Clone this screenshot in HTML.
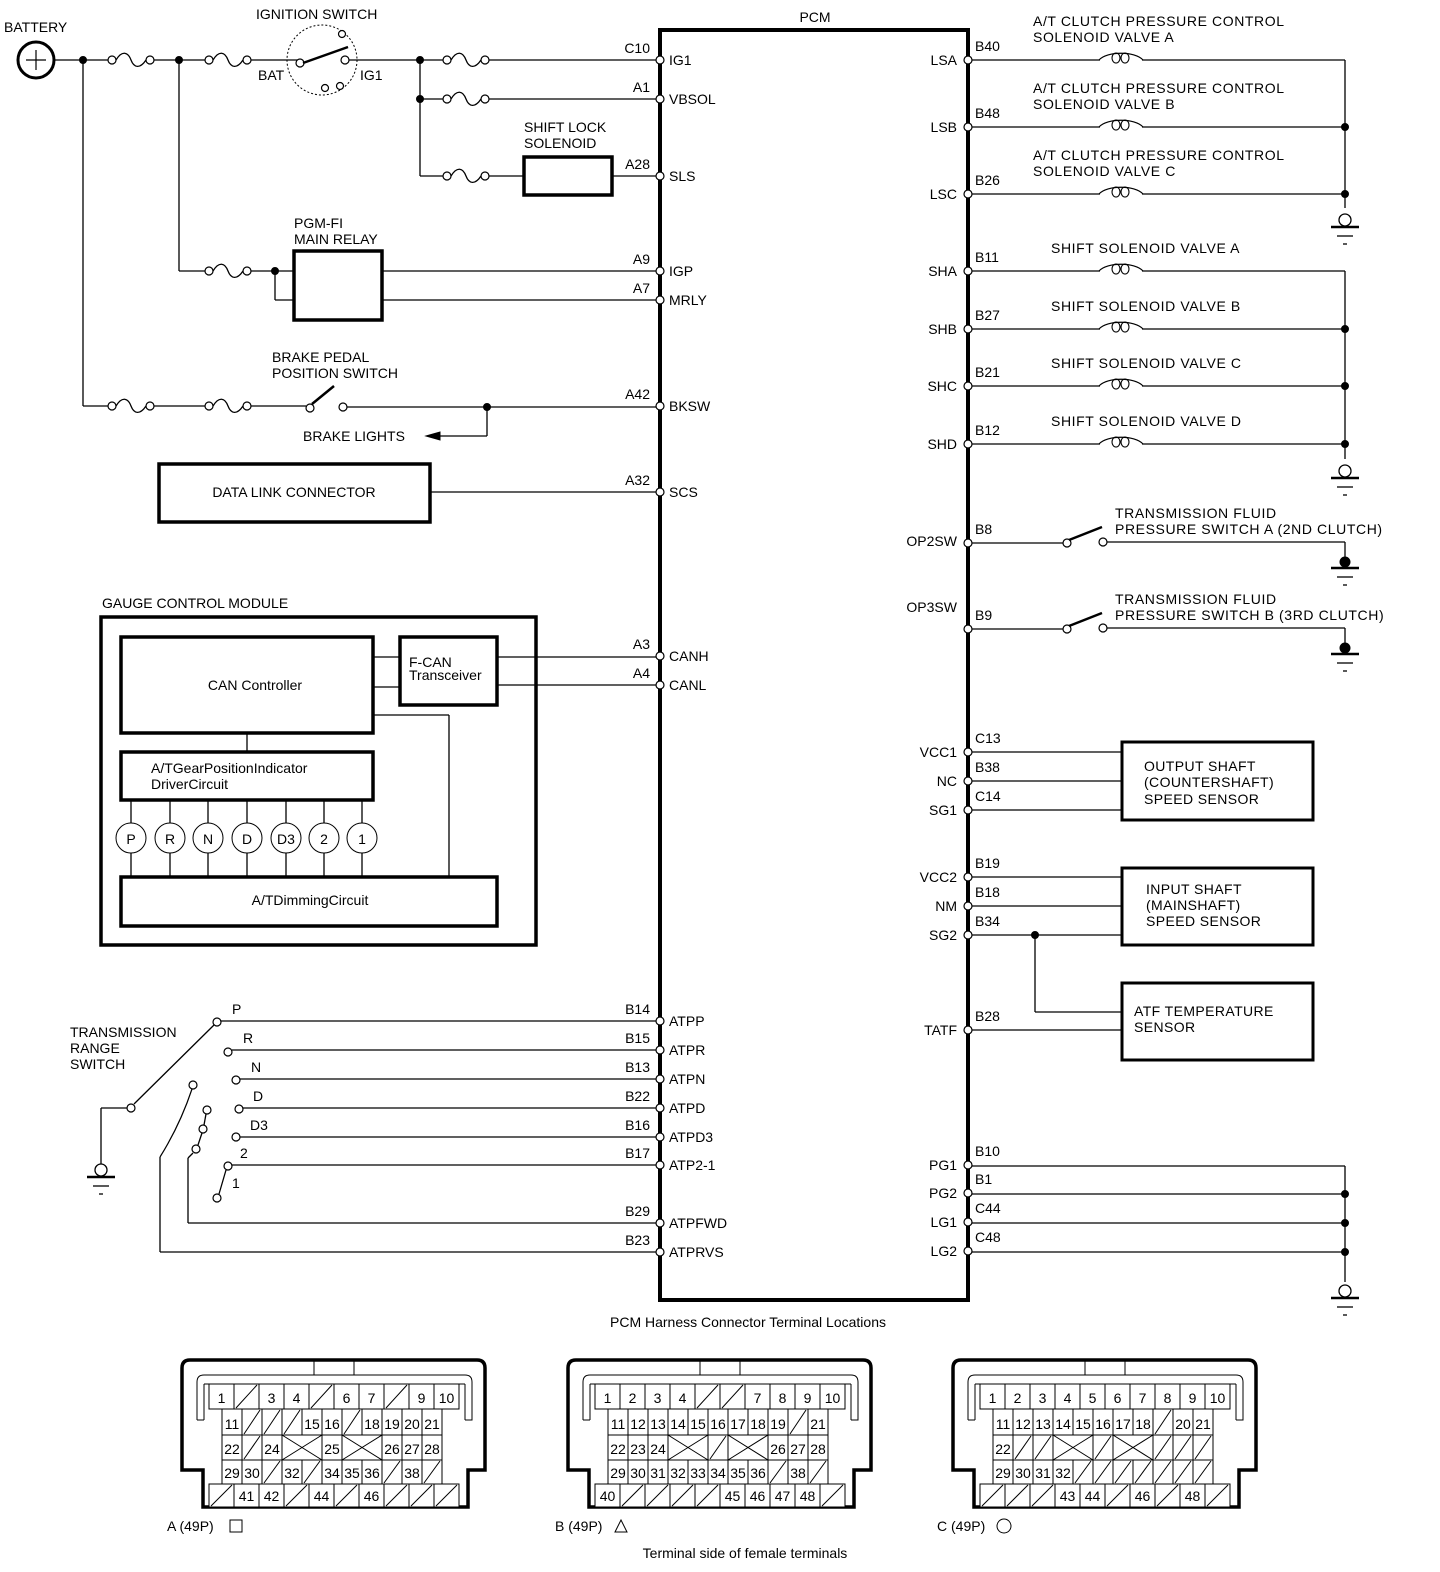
<!DOCTYPE html>
<html><head><meta charset="utf-8">
<style>
html,body{margin:0;padding:0;background:#fff;overflow:hidden;width:1440px;height:1572px;}
svg{display:block;}
text{font-family:"Liberation Sans",Arial,sans-serif;font-size:14px;fill:#000;}
</style></head>
<body>
<svg id="s" width="1440" height="1572" viewBox="0 0 1440 1572" xmlns="http://www.w3.org/2000/svg">
<g id="g" stroke="#000" fill="none" stroke-width="1.3"></g>
<g id="t"></g>
</svg>
<script>
var G=document.getElementById('g'),T=document.getElementById('t'),NS='http://www.w3.org/2000/svg';
function el(p,tag,a){var e=document.createElementNS(NS,tag);for(var k in a)e.setAttribute(k,a[k]);p.appendChild(e);return e;}
function L(x1,y1,x2,y2,w){el(G,'line',{x1:x1,y1:y1,x2:x2,y2:y2,'stroke-width':w||1.3});}
function R(x,y,w,h,sw){el(G,'rect',{x:x,y:y,width:w,height:h,'stroke-width':sw||3.5});}
function C(x,y,r,fill,sw){el(G,'circle',{cx:x,cy:y,r:r,fill:fill||'#fff','stroke-width':sw||1.2});}
function P(d,sw,f){el(G,'path',{d:d,'stroke-width':sw||1.3,fill:f||'none'});}
function X(x,y,s,o){o=o||{};var e=el(T,'text',{x:x,y:y});e.textContent=s;if(o.a)e.setAttribute('text-anchor',o.a);if(o.fs)e.setAttribute('font-size',o.fs);if(o.ls)e.setAttribute('letter-spacing',o.ls);if(o.w)e.setAttribute('font-weight',o.w);return e;}
function dot(x,y){C(x,y,3.5,'#000',1);}
function fuse(a,y){var b=a+46;P('M'+(a+8)+' '+y+' C'+(a+14)+' '+(y-10)+' '+(a+20)+' '+(y-8)+' '+(a+23)+' '+y+' S'+(a+32)+' '+(y+9)+' '+(b-8)+' '+y,1.3);C(a+4,y,4);C(b-4,y,4);}
function coil(x,y){P('M'+(x-22)+' '+y+' C'+(x-14)+' '+(y-9)+' '+(x+14)+' '+(y-9)+' '+(x+22)+' '+y,1.2);el(G,'ellipse',{cx:x-5,cy:y-2,rx:4,ry:5,'stroke-width':1.1,fill:'none'});el(G,'ellipse',{cx:x+4,cy:y-2,rx:4,ry:5,'stroke-width':1.1,fill:'none'});}
function gnd(x,y,filled){if(filled){C(x,y-3,5,'#000',1);}else{C(x,y-4,6,'#fff',1.3);}L(x-14,y+3,x+14,y+3,2.5);L(x-8,y+12,x+8,y+12,1.3);L(x-2,y+20,x+2,y+20,1.3);}
function pin(x,y){C(x,y,4,'#fff',1.2);}

R(660,30,308,1270,4);
X(815,22,'PCM',{a:'middle'});
var lp=[['C10','IG1',60],['A1','VBSOL',99],['A28','SLS',176],['A9','IGP',271],['A7','MRLY',300],['A42','BKSW',406],['A32','SCS',492],['A3','CANH',656],['A4','CANL',685],['B14','ATPP',1021],['B15','ATPR',1050],['B13','ATPN',1079],['B22','ATPD',1108],['B16','ATPD3',1137],['B17','ATP2-1',1165],['B29','ATPFWD',1223],['B23','ATPRVS',1252]];
var rp=[['B40','LSA',60,60],['B48','LSB',127,127],['B26','LSC',194,194],['B11','SHA',271,271],['B27','SHB',329,329],['B21','SHC',386,386],['B12','SHD',444,444],['B8','OP2SW',543,541],['B9','OP3SW',629,607],['C13','VCC1',752,752],['B38','NC',781,781],['C14','SG1',810,810],['B19','VCC2',877,877],['B18','NM',906,906],['B34','SG2',935,935],['B28','TATF',1030,1030],['B10','PG1',1165,1165],['B1','PG2',1193,1193],['C44','LG1',1222,1222],['C48','LG2',1251,1251]];

C(36,60,18,'#fff',3);L(26,60,46,60,1.2);L(36,50,36,70,1.2);
X(4,32,'BATTERY');
L(54,60,108,60);fuse(108,60);L(154,60,205,60);fuse(205,60);L(251,60,300,60);
dot(83,60);dot(179,60);
el(G,'circle',{cx:322,cy:60,r:35,'stroke-width':1,'stroke-dasharray':'2,2',fill:'none'});
C(300,63,4);C(345,60,4);C(342,34,3.5);C(325,88,3.5);C(340,86,3.5);
L(303,63,348,47,2.5);
X(256,19,'IGNITION SWITCH');X(258,80,'BAT');X(360,80,'IG1');
L(349,60,443,60);dot(420,60);fuse(443,60);L(489,60,656,60);
L(420,60,420,176);dot(420,99);L(420,99,443,99);fuse(443,99);L(489,99,656,99);
L(420,176,443,176);fuse(443,176);L(489,176,524,176);R(524,157,88,38,3.5);L(612,176,656,176);
X(524,132,'SHIFT LOCK');X(524,148,'SOLENOID');
L(179,60,179,271);L(179,271,205,271);fuse(205,271);L(251,271,294,271);dot(275,271);L(275,271,275,300);L(275,300,294,300);
R(294,251,88,69,3.5);L(382,271,656,271);L(382,300,656,300);
X(294,228,'PGM-FI');X(294,244,'MAIN RELAY');
L(83,60,83,406);L(83,406,108,406);fuse(108,406);L(154,406,205,406);fuse(205,406);L(251,406,306,406);
C(310,408,4);C(343,407,4);L(312,404,334,386,2.5);L(347,407,656,407);dot(487,407);
L(487,407,487,436);L(487,436,438,436);P('M426 436 L440 432 L440 440 Z',1,'#000');
X(303,441,'BRAKE LIGHTS');X(272,362,'BRAKE PEDAL');X(272,378,'POSITION SWITCH');
R(159,464,271,58,3.5);X(294,497,'DATA LINK CONNECTOR',{a:'middle'});L(430,492,656,492);

X(102,608,'GAUGE CONTROL MODULE');
R(101,617,435,328,3.5);
R(121,637,252,96,3.5);X(255,690,'CAN Controller',{a:'middle'});
R(400,637,97,68,3.5);X(409,667,'F-CAN',{fs:12});X(409,680,'Transceiver',{fs:12});
L(373,657,400,657);L(373,687,400,687);L(497,657,656,657);L(497,685,656,685);
L(373,715,449,715);L(449,715,449,877);L(247,733,247,752);
R(121,752,252,48,3.5);X(151,773,'A/TGearPositionIndicator');X(151,789,'DriverCircuit');
var gl=['P','R','N','D','D3','2','1'],gx=[131,170,208,247,286,324,362];
for(var i=0;i<7;i++){L(gx[i],800,gx[i],823);L(gx[i],853,gx[i],877);C(gx[i],838,15,'#fff',1);X(gx[i],844,gl[i],{a:'middle',fs:gl[i]=='D3'?14:16});}
R(121,877,376,49,3.5);X(310,905,'A/TDimmingCircuit',{a:'middle'});

X(70,1037,'TRANSMISSION');X(70,1053,'RANGE');X(70,1069,'SWITCH');
var ts=[['P',217,1022,232,1014,1021],['R',228,1052,243,1043,1050],['N',236,1080,251,1072,1079],['D',239,1109,253,1101,1108],['D3',236,1137,250,1130,1137],['2',228,1166,240,1158,1165]];
ts.forEach(function(t){C(t[1],t[2],4);L(t[1]+4,t[5],656,t[5]);X(t[3],t[4],t[0]);});
C(217,1198,4);L(219,1194,226,1170);X(232,1188,'1');
C(131,1108,4);L(134,1104,214,1025);L(127,1108,101,1108);L(101,1108,101,1165);gnd(101,1174);
C(193,1085,4);P('M192 1089 Q180 1125 160 1157',1.2);L(160,1157,160,1252);L(160,1252,656,1252);
C(207,1110,4);C(203,1129,4);C(196,1149,4);L(206,1114,204,1125);L(202,1133,198,1145);L(193,1153,188,1158);L(188,1158,188,1223);L(188,1223,656,1223);

lp.forEach(function(p){pin(660,p[2]);X(650,p[2]-7,p[0],{a:'end'});X(669,p[2]+5,p[1]);});
rp.forEach(function(p){pin(968,p[2]);X(975,p[2]-9,p[0]);X(957,p[3]+5,p[1],{a:'end'});});

var sol=[[60,['A/T CLUTCH PRESSURE CONTROL','SOLENOID VALVE A'],1033],[127,['A/T CLUTCH PRESSURE CONTROL','SOLENOID VALVE B'],1033],[194,['A/T CLUTCH PRESSURE CONTROL','SOLENOID VALVE C'],1033],[271,['SHIFT SOLENOID VALVE A'],1051],[329,['SHIFT SOLENOID VALVE B'],1051],[386,['SHIFT SOLENOID VALVE C'],1051],[444,['SHIFT SOLENOID VALVE D'],1051]];
sol.forEach(function(s){var y=s[0];L(972,y,1100,y);coil(1121,y);L(1142,y,1345,y);
 if(s[1].length==2){X(s[2],y-34,s[1][0],{ls:'0.6'});X(s[2],y-18,s[1][1],{ls:'0.6'});}else{X(s[2],y-18,s[1][0],{ls:'0.6'});}});
L(1345,60,1345,208);dot(1345,127);dot(1345,194);gnd(1345,224);
L(1345,271,1345,459);dot(1345,329);dot(1345,386);dot(1345,444);gnd(1345,475);
[[543,'A (2ND CLUTCH)'],[629,'B (3RD CLUTCH)']].forEach(function(s){var y=s[0];L(972,y,1063,y);C(1067,y,4);L(1069,y-3,1102,y-16,2.5);C(1103,y-1,4);L(1107,y-1,1345,y-1);L(1345,y-1,1345,y+17);gnd(1345,y+22,true);
 X(1115,y-25,'TRANSMISSION FLUID',{ls:'0.6'});X(1115,y-9,'PRESSURE SWITCH '+s[1],{ls:'0.6'});});
R(1122,742,191,78,3);X(1144,771,'OUTPUT SHAFT',{ls:'0.4'});X(1144,787,'(COUNTERSHAFT)',{ls:'0.4'});X(1144,804,'SPEED SENSOR',{ls:'0.4'});
[752,781,810].forEach(function(y){L(972,y,1122,y);});
R(1122,868,191,77,3);X(1146,894,'INPUT SHAFT',{ls:'0.4'});X(1146,910,'(MAINSHAFT)',{ls:'0.4'});X(1146,926,'SPEED SENSOR',{ls:'0.4'});
[877,906,935].forEach(function(y){L(972,y,1122,y);});
dot(1035,935);L(1035,935,1035,1012);L(1035,1012,1122,1012);
R(1122,983,191,77,3);X(1134,1016,'ATF TEMPERATURE',{ls:'0.4'});X(1134,1032,'SENSOR',{ls:'0.4'});
L(972,1030,1122,1030);
[1165,1193,1222,1251].forEach(function(y){L(972,y+1,1345,y+1);});
L(1345,1166,1345,1282);dot(1345,1194);dot(1345,1223);dot(1345,1252);gnd(1345,1295);

X(748,1327,'PCM  Harness Connector Terminal Locations',{a:'middle',fs:13});
X(745,1558,'Terminal side of female terminals',{a:'middle',fs:13});
function conn(ox,rows){
 P('M'+(ox+182)+' 1470 L'+(ox+182)+' 1368 Q'+(ox+182)+' 1360 '+(ox+190)+' 1360 L'+(ox+477)+' 1360 Q'+(ox+485)+' 1360 '+(ox+485)+' 1368 L'+(ox+485)+' 1470 L'+(ox+468)+' 1470 L'+(ox+468)+' 1507 L'+(ox+203)+' 1507 L'+(ox+203)+' 1470 Z',3.5);
 L(ox+314,1360,ox+314,1375,1);L(ox+354,1360,ox+354,1375,1);
 P('M'+(ox+197)+' 1420 L'+(ox+197)+' 1382 Q'+(ox+197)+' 1375 '+(ox+204)+' 1375 L'+(ox+465)+' 1375 Q'+(ox+472)+' 1375 '+(ox+472)+' 1382 L'+(ox+472)+' 1420 L'+(ox+465)+' 1420',1);
 L(ox+197,1420,ox+204,1420,1);L(ox+204,1384,ox+204,1420,1);L(ox+465,1384,ox+465,1420,1);L(ox+204,1384,ox+465,1384,1);
 var ys=[1384,1409,1435,1460,1484,1507];
 for(var r=0;r<5;r++){var wide=(r==0||r==4);var cw=wide?25:20,x=ox+(wide?209:222),y0=ys[r],y1=ys[r+1];
  rows[r].forEach(function(c){var w=(c=='X')?cw*2:cw;
   el(G,'rect',{x:x,y:y0,width:w,height:y1-y0,'stroke-width':1,fill:'#fff'});
   if(c=='/'){L(x+2,y1-1,x+w-2,y0+1,1);}
   else if(c=='X'){L(x,y0,x+w,y1,1);L(x,y1,x+w,y0,1);}
   else{X(x+w/2,y1-6,c,{a:'middle',fs:wide?15:14});}
   x+=w;});}
}
conn(0,[['1','/','3','4','/','6','7','/','9','10'],['11','/','/','/','15','16','/','18','19','20','21'],['22','/','24','X','25','X','26','27','28'],['29','30','/','32','/','34','35','36','/','38','/'],['/','41','42','/','44','/','46','/','/','/']]);
conn(386,[['1','2','3','4','/','/','7','8','9','10'],['11','12','13','14','15','16','17','18','19','/','21'],['22','23','24','X','/','X','26','27','28'],['29','30','31','32','33','34','35','36','/','38','/'],['40','/','/','/','/','45','46','47','48','/']]);
conn(771,[['1','2','3','4','5','6','7','8','9','10'],['11','12','13','14','15','16','17','18','/','20','21'],['22','/','/','X','/','X','/','/','/'],['29','30','31','32','/','/','/','/','/','/','/'],['/','/','/','43','44','/','46','/','48','/']]);
X(167,1531,'A (49P)');R(230,1520,12,12,1);
X(555,1531,'B (49P)');P('M615 1532 L621 1520 L627 1532 Z',1);
X(937,1531,'C (49P)');C(1004,1526,7,'#fff',1);
</script>
</body></html>
